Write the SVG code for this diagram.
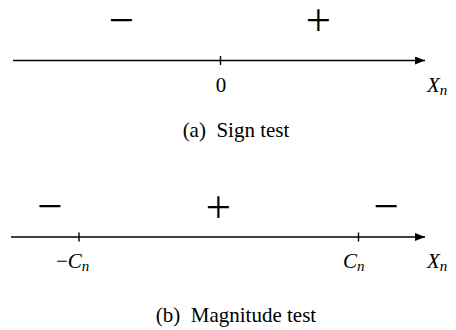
<svg xmlns="http://www.w3.org/2000/svg" width="456" height="330" viewBox="0 0 456 330">
<defs>
<marker id="arr" markerWidth="10" markerHeight="8" refX="10" refY="4" orient="auto" markerUnits="userSpaceOnUse">
<path d="M0,0 L10,4 L0,8 Z" fill="#000"/>
</marker>
</defs>
<g id="connectors" stroke="#000" fill="none">
<line x1="13" y1="60.5" x2="425" y2="60.5" stroke-width="1.6" marker-end="url(#arr)"/>
<line x1="220.5" y1="56" x2="220.5" y2="65" stroke-width="1.4"/>
<line x1="11" y1="237" x2="425" y2="237" stroke-width="1.6" marker-end="url(#arr)"/>
<line x1="79" y1="232.5" x2="79" y2="241.5" stroke-width="1.4"/>
<line x1="358.5" y1="232.5" x2="358.5" y2="241.5" stroke-width="1.4"/>
</g>
<g id="signTest">
<text x="121.5" y="36" font-family="Noto Sans" font-weight="300" font-size="45" text-anchor="middle">−</text>
<text x="318.3" y="36" font-family="Noto Sans" font-weight="300" font-size="45" text-anchor="middle">+</text>
<text x="221" y="91.5" font-family="Liberation Serif" font-size="21" text-anchor="middle">0</text>
<text x="427" y="92" font-family="Liberation Serif" font-size="21" font-style="italic">X<tspan font-size="15" dy="3">n</tspan></text>
<text x="236" y="137" font-family="Liberation Serif" font-size="21" text-anchor="middle">(a)&#160; Sign test</text>
</g>
<g id="magnitudeTest">
<text x="50" y="222" font-family="Noto Sans" font-weight="300" font-size="45" text-anchor="middle">−</text>
<text x="218.3" y="222.5" font-family="Noto Sans" font-weight="300" font-size="45" text-anchor="middle">+</text>
<text x="386.3" y="222" font-family="Noto Sans" font-weight="300" font-size="45" text-anchor="middle">−</text>
<text x="56" y="268" font-family="Liberation Serif" font-size="21">−<tspan font-style="italic">C</tspan><tspan font-size="15" font-style="italic" dy="3">n</tspan></text>
<text x="343" y="268" font-family="Liberation Serif" font-size="21" font-style="italic">C<tspan font-size="15" dy="3">n</tspan></text>
<text x="427" y="268" font-family="Liberation Serif" font-size="21" font-style="italic">X<tspan font-size="15" dy="3">n</tspan></text>
<text x="236" y="322" font-family="Liberation Serif" font-size="21" text-anchor="middle">(b)&#160; Magnitude test</text>
</g>
</svg>
